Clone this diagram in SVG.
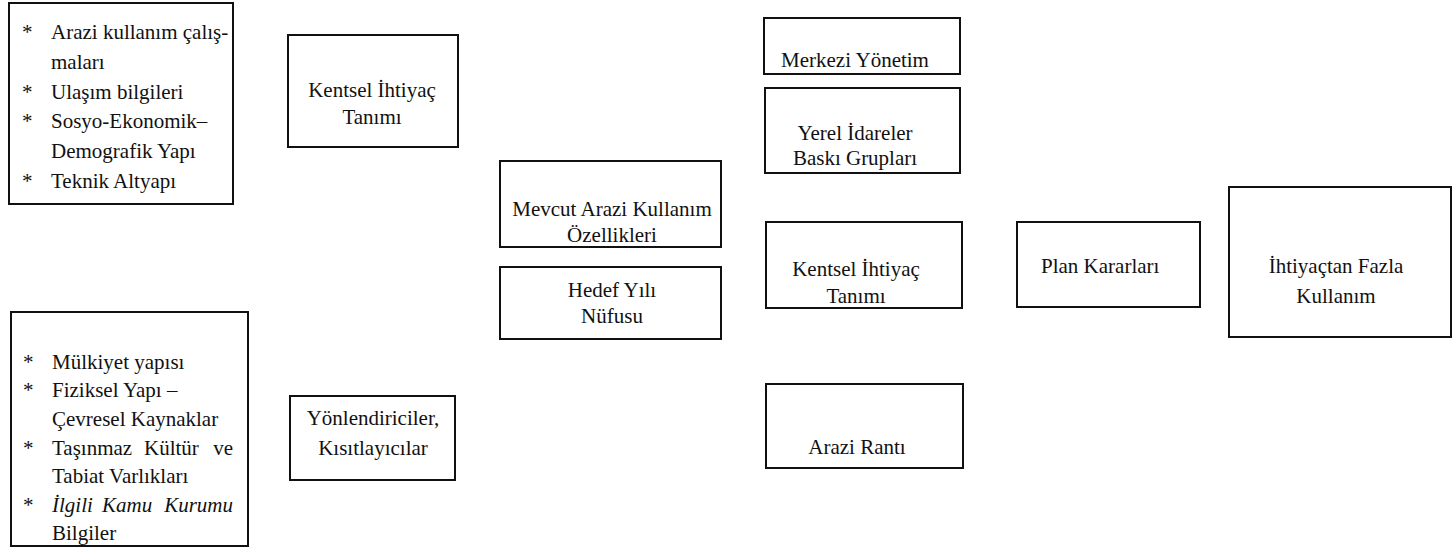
<svg xmlns="http://www.w3.org/2000/svg" width="1453" height="559" viewBox="0 0 1453 559">
<style>
.box{fill:#fff;stroke:#111;stroke-width:2}
text{font-family:"Liberation Serif","Times New Roman",serif;font-size:21px;fill:#111}
.c{text-anchor:middle}
.e{text-anchor:end}
.i{font-style:italic}
</style>
<rect width="1453" height="559" fill="#fff"/>
<g id="connectors"></g>
<g id="n-inputs-top">
<rect class="box" x="9" y="3" width="224" height="201"/>
<text x="22" y="39">*</text><text x="51" y="39">Arazi kullanım çalış-</text>
<text x="51" y="69">maları</text>
<text x="22" y="99">*</text><text x="51" y="99">Ulaşım bilgileri</text>
<text x="22" y="128">*</text><text x="51" y="128">Sosyo-Ekonomik–</text>
<text x="51" y="158">Demografik Yapı</text>
<text x="22" y="188">*</text><text x="51" y="188">Teknik Altyapı</text>
</g>
<g id="n-inputs-bottom">
<rect class="box" x="11" y="312" width="237" height="234"/>
<text x="23" y="369">*</text><text x="52" y="369">Mülkiyet yapısı</text>
<text x="23" y="397">*</text><text x="52" y="397">Fiziksel Yapı –</text>
<text x="52" y="426">Çevresel Kaynaklar</text>
<text x="23" y="455">*</text><text x="52" y="455">Taşınmaz</text><text x="144" y="455">Kültür</text><text class="e" x="233" y="455">ve</text>
<text x="52" y="483">Tabiat Varlıkları</text>
<text x="23" y="512">*</text><text class="i" x="52" y="512">İlgili</text><text class="i" x="102" y="512">Kamu</text><text class="i e" x="233" y="512">Kurumu</text>
<text x="52" y="540">Bilgiler</text>
</g>
<g id="n-kentsel-left">
<rect class="box" x="288" y="35" width="170" height="112"/>
<text class="c" x="372" y="97">Kentsel İhtiyaç</text>
<text class="c" x="372" y="124">Tanımı</text>
</g>
<g id="n-yonlendiriciler">
<rect class="box" x="290" y="396" width="165" height="84"/>
<text class="c" x="373" y="425">Yönlendiriciler,</text>
<text class="c" x="373" y="455">Kısıtlayıcılar</text>
</g>
<g id="n-mevcut">
<rect class="box" x="500" y="161" width="221" height="86"/>
<text class="c" x="612" y="216">Mevcut Arazi Kullanım</text>
<text class="c" x="612" y="242">Özellikleri</text>
</g>
<g id="n-hedef">
<rect class="box" x="500" y="267" width="221" height="72"/>
<text class="c" x="612" y="297">Hedef Yılı</text>
<text class="c" x="612" y="323">Nüfusu</text>
</g>
<g id="n-merkezi">
<rect class="box" x="764" y="18" width="196" height="56"/>
<text class="c" x="855" y="67">Merkezi Yönetim</text>
</g>
<g id="n-yerel">
<rect class="box" x="765" y="88" width="195" height="85"/>
<text class="c" x="855" y="140">Yerel İdareler</text>
<text class="c" x="855" y="165">Baskı Grupları</text>
</g>
<g id="n-kentsel-center">
<rect class="box" x="766" y="222" width="196" height="86"/>
<text class="c" x="856" y="276">Kentsel İhtiyaç</text>
<text class="c" x="856" y="303">Tanımı</text>
</g>
<g id="n-arazi-ranti">
<rect class="box" x="766" y="384" width="197" height="84"/>
<text class="c" x="857" y="454">Arazi Rantı</text>
</g>
<g id="n-plan">
<rect class="box" x="1017" y="222" width="183" height="85"/>
<text x="1041" y="273">Plan Kararları</text>
</g>
<g id="n-ihtiyactan">
<rect class="box" x="1229" y="187" width="222" height="150"/>
<text class="c" x="1336" y="273">İhtiyaçtan Fazla</text>
<text class="c" x="1336" y="303">Kullanım</text>
</g>
</svg>
